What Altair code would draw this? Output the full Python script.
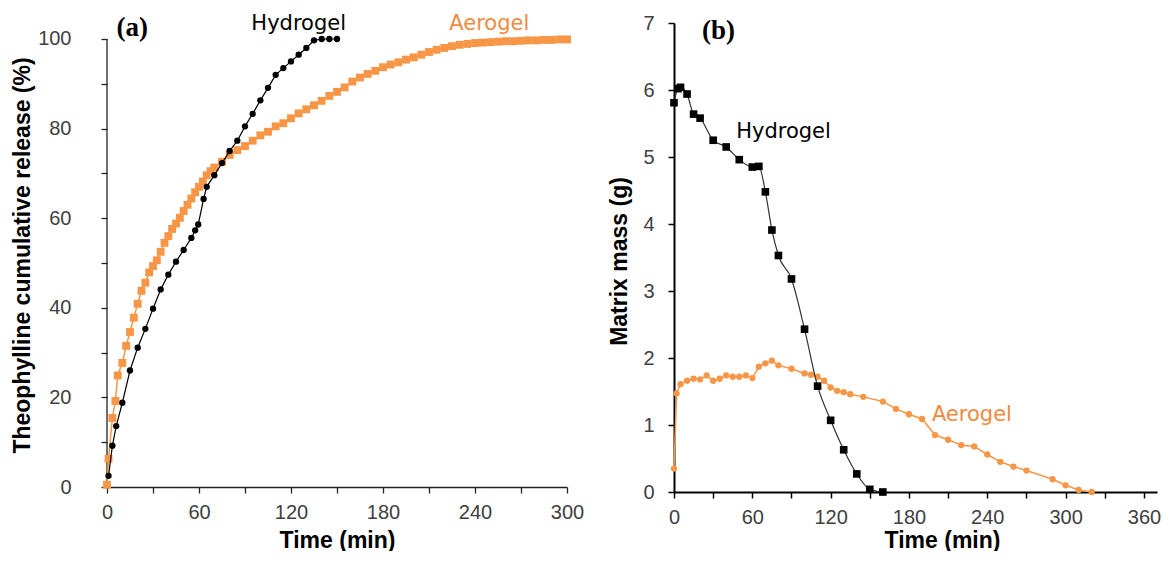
import altair as alt
import pandas as pd

# ---------------- Panel (a): cumulative release (%) ----------------
a_hydrogel_time = [1, 3.5, 6, 10, 15, 20, 25, 30, 35, 40, 45, 50, 55, 57.5, 59.5, 63, 65,
                   70, 75, 80, 85, 90, 95, 100, 105, 110, 115, 120, 125, 130, 135, 140, 145, 150]
a_hydrogel_release = [2.5, 9.2, 13.6, 18.8, 26.0, 31.1, 35.3, 39.8, 44.1, 47.4, 50.3, 52.9, 55.6,
                      57.3, 58.6, 64.3, 67.0, 69.6, 72.3, 75.0, 77.3, 80.5, 83.3, 86.3, 89.1, 92.0,
                      93.5, 95.0, 96.5, 98.0, 99.7, 100.0, 100.0, 100.0]

a_aerogel_time = [0, 1, 3.5, 5.5, 7, 10, 12.5, 15, 17.5, 20, 22.5, 25, 27.5, 30, 32.5, 35, 37.5,
                  40, 42.5, 45, 47.5, 50, 52.5, 55, 57.5, 60, 62.5, 65, 67.5, 70,
                  75, 80, 85, 90, 95, 100, 105, 110, 115, 120, 125, 130, 135, 140, 145, 150,
                  155, 160, 165, 170, 175, 180, 185, 190, 195, 200, 205, 210, 215, 220, 225,
                  230, 235, 240, 245, 250, 255, 260, 265, 270, 275, 280, 285, 290, 295, 300]
a_aerogel_release = [0.5, 6.3, 15.4, 19.2, 24.9, 27.7, 31.5, 34.6, 37.8, 40.9, 43.8, 45.6, 47.9,
                     49.3, 50.6, 52.5, 54.5, 56.0, 57.6, 58.8, 60.1, 61.6, 63.0, 64.4, 65.8, 67.0,
                     68.2, 69.6, 70.5, 71.3,
                     72.6, 74.1, 75.2, 76.1, 77.3, 78.5, 79.3, 80.5, 81.2, 82.3, 83.4, 84.3, 85.2,
                     86.2, 87.3, 88.2, 89.2, 90.5, 91.4, 92.2, 92.9, 93.7, 94.3, 94.8, 95.4, 95.9,
                     96.5, 97.1, 97.6, 98.0, 98.4, 98.7, 98.9, 99.1, 99.2, 99.3, 99.4, 99.5, 99.5,
                     99.6, 99.7, 99.7, 99.8, 99.8, 99.9, 99.9]

# ---------------- Panel (b): matrix mass (g) ----------------
b_hydrogel_time = [0, 3, 5, 10, 15, 20, 30, 40, 50, 60, 65, 70, 75, 80, 90, 100, 110, 120, 130,
                   140, 150, 160]
b_hydrogel_mass = [5.81, 6.02, 6.04, 5.94, 5.64, 5.58, 5.25, 5.15, 4.96, 4.85, 4.86, 4.48, 3.91,
                   3.53, 3.18, 2.43, 1.58, 1.07, 0.63, 0.27, 0.04, 0.0]

b_aerogel_time = [0, 2, 5, 10, 15, 20, 25, 30, 35, 40, 45, 50, 55, 60, 65, 70, 75, 80, 90, 100,
                  105, 110, 115, 120, 125, 130, 135, 145, 160, 170, 180, 190, 200, 210, 220, 230,
                  240, 250, 260, 270, 290, 300, 310, 320]
b_aerogel_mass = [0.35, 1.47, 1.61, 1.66, 1.69, 1.68, 1.74, 1.66, 1.69, 1.74, 1.72, 1.72, 1.74,
                  1.70, 1.87, 1.92, 1.96, 1.89, 1.84, 1.77, 1.75, 1.72, 1.66, 1.56, 1.51, 1.49,
                  1.46, 1.42, 1.35, 1.24, 1.16, 1.09, 0.85, 0.78, 0.70, 0.68, 0.56, 0.45, 0.38,
                  0.32, 0.19, 0.10, 0.03, 0.0]

# annotations (text, time, value)
a_labels = ["(a)", "Hydrogel", "Aerogel"]
a_label_t = [16.4, 125, 249.3]
a_label_v = [100.7, 102.1, 102.0]
b_labels = ["(b)", "Hydrogel", "Aerogel"]
b_label_t = [34.1, 83.9, 228.2]
b_label_v = [6.76, 5.28, 1.06]

a_xticks = [0, 30, 60, 90, 120, 150, 180, 210, 240, 270, 300]
a_yticks = [0, 10, 20, 30, 40, 50, 60, 70, 80, 90, 100]
b_xticks = [0, 30, 60, 90, 120, 150, 180, 210, 240, 270, 300, 330, 360]
b_yticks = [0, 0.5, 1, 1.5, 2, 2.5, 3, 3.5, 4, 4.5, 5, 5.5, 6, 6.5, 7]

FONT = "Liberation Sans"
ORANGE = "#F79646"
BLACK = "#000000"


def axis(vals, step, **kw):
    return alt.Axis(
        values=vals,
        labelExpr=f"datum.value % {step} === 0 ? datum.label : ''",
        grid=False, labelFlush=False, labelOverlap=False,
        labelFont=FONT, labelFontSize=20, labelColor="#404040",
        titleFont=FONT, titleFontSize=23, titleFontWeight="bold", titleColor=BLACK,
        tickSize=6, **kw)


# ---------- panel (a) ----------
ax_a = alt.X("t:Q", title="Time (min)",
             scale=alt.Scale(domain=[0, 300], nice=False, zero=False),
             axis=axis(a_xticks, 60, labelPadding=9, titlePadding=7,
                       domainColor="#222222", domainWidth=1.3, tickColor="#222222", tickWidth=1.3))
ay_a = alt.Y("v:Q", title="Theophylline cumulative release (%)",
             scale=alt.Scale(domain=[0, 103.57], nice=False, zero=False),
             axis=axis(a_yticks, 20, labelPadding=30, titlePadding=3, domain=False,
                       tickColor="#222222", tickWidth=1.3))

a_hyd = pd.DataFrame({"t": a_hydrogel_time, "v": a_hydrogel_release})
a_aer = pd.DataFrame({"t": a_aerogel_time, "v": a_aerogel_release})
a_txt = pd.DataFrame({"t": a_label_t, "v": a_label_v, "label": a_labels})
a_axis_line = pd.DataFrame({"t": [0], "v": [0], "v2": [100]})

a_layers = [
    alt.Chart(a_axis_line).mark_rule(color="#222222", strokeWidth=1.3).encode(
        x=ax_a, y=ay_a, y2="v2:Q"),
    alt.Chart(a_aer).mark_line(color=ORANGE, strokeWidth=1.5).encode(x=ax_a, y=ay_a),
    alt.Chart(a_aer).mark_square(color=ORANGE, size=62, opacity=1).encode(x=ax_a, y=ay_a),
    alt.Chart(a_hyd).mark_line(color=BLACK, strokeWidth=1.2).encode(x=ax_a, y=ay_a),
    alt.Chart(a_hyd).mark_circle(color=BLACK, size=40, opacity=1).encode(x=ax_a, y=ay_a),
    alt.Chart(a_txt.iloc[[0]]).mark_text(font="Liberation Serif", fontWeight="bold", fontSize=27,
                                         color=BLACK, baseline="alphabetic", align="center").encode(
        x=ax_a, y=ay_a, text="label:N"),
    alt.Chart(a_txt.iloc[[1]]).mark_text(font="DejaVu Sans", fontSize=21, color=BLACK,
                                         baseline="alphabetic", align="center").encode(
        x=ax_a, y=ay_a, text="label:N"),
    alt.Chart(a_txt.iloc[[2]]).mark_text(font="DejaVu Sans", fontSize=21, color="#F08A3E",
                                         baseline="alphabetic", align="center").encode(
        x=ax_a, y=ay_a, text="label:N"),
]
panel_a = alt.layer(*a_layers).properties(width=460, height=464)

# ---------- panel (b) ----------
ax_b = alt.X("t:Q", title="Time (min)",
             scale=alt.Scale(domain=[0, 370], nice=False, zero=False),
             axis=axis(b_xticks, 60, labelPadding=9, titlePadding=2, titleX=268,
                       domainColor=BLACK, domainWidth=2, tickColor=BLACK, tickWidth=1.5))
ay_b = alt.Y("v:Q", title="Matrix mass (g)",
             scale=alt.Scale(domain=[0, 7], nice=False, zero=False),
             axis=axis(b_yticks, 1, format="d", labelPadding=14, titlePadding=11, titleY=238,
                       domainColor=BLACK, domainWidth=2, tickColor=BLACK, tickWidth=1.5))

b_hyd = pd.DataFrame({"t": b_hydrogel_time, "v": b_hydrogel_mass})
b_aer = pd.DataFrame({"t": b_aerogel_time, "v": b_aerogel_mass})
b_txt = pd.DataFrame({"t": b_label_t, "v": b_label_v, "label": b_labels})

b_layers = [
    alt.Chart(b_aer).mark_line(color=ORANGE, strokeWidth=1.5).encode(x=ax_b, y=ay_b),
    alt.Chart(b_aer).mark_circle(color=ORANGE, size=40, opacity=1).encode(x=ax_b, y=ay_b),
    alt.Chart(b_hyd).mark_line(color="#333333", strokeWidth=1.2, interpolate="monotone").encode(
        x=ax_b, y=ay_b),
    alt.Chart(b_hyd).mark_square(color=BLACK, size=58, opacity=1).encode(x=ax_b, y=ay_b),
    alt.Chart(b_txt.iloc[[0]]).mark_text(font="Liberation Serif", fontWeight="bold", fontSize=27,
                                         color=BLACK, baseline="alphabetic", align="center").encode(
        x=ax_b, y=ay_b, text="label:N"),
    alt.Chart(b_txt.iloc[[1]]).mark_text(font="DejaVu Sans", fontSize=21, color=BLACK,
                                         baseline="alphabetic", align="center").encode(
        x=ax_b, y=ay_b, text="label:N"),
    alt.Chart(b_txt.iloc[[2]]).mark_text(font="DejaVu Sans", fontSize=21, color="#F08A3E",
                                         baseline="alphabetic", align="center").encode(
        x=ax_b, y=ay_b, text="label:N"),
]
panel_b = alt.layer(*b_layers).properties(width=483, height=469)

chart = alt.hconcat(panel_a, panel_b, spacing=24).properties(
    padding={"left": 3, "top": 4, "right": 0, "bottom": -1}
).configure_view(strokeWidth=0)

chart.save("out.html", embed_options={"renderer": "svg", "actions": False})
